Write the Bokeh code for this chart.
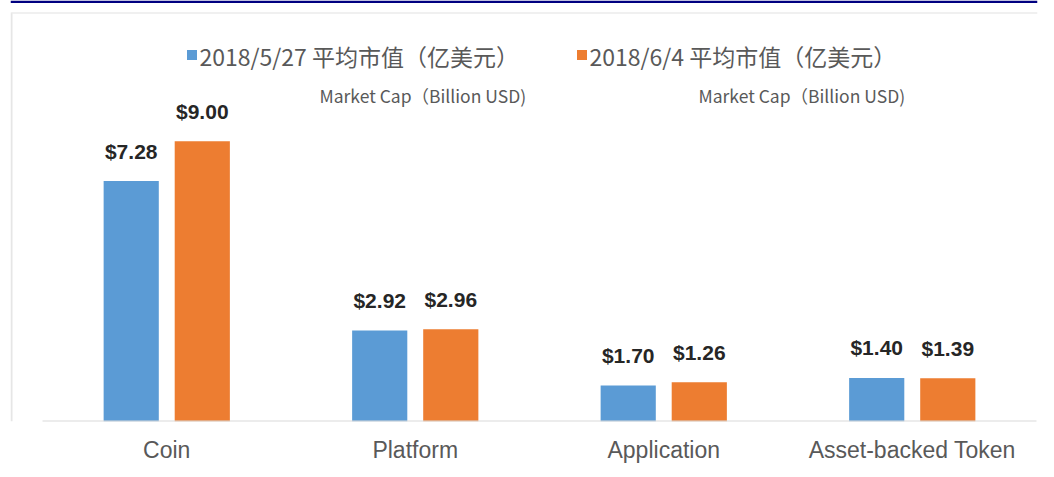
from bokeh.plotting import figure
from bokeh.models import Range1d, FixedTicker, ColumnDataSource, BoxAnnotation
from bokeh.transform import dodge
from bokeh.core.properties import value
from bokeh.embed import file_html
from bokeh.resources import INLINE

# ---------------- data ----------------
categories = ["Coin", "Platform", "Application", "Asset-backed Token"]
series_names = ["2018/5/27 平均市值（亿美元）", "2018/6/4 平均市值（亿美元）"]
series_subtitle = "Market Cap（Billion USD)"
# bar heights as drawn in the picture (Billion USD scale)
heights_0527 = [7.72, 2.92, 1.16, 1.40]
heights_0604 = [9.00, 2.96, 1.26, 1.39]
# value labels as printed
labels_0527 = ["$7.28", "$2.92", "$1.70", "$1.40"]
labels_0604 = ["$9.00", "$2.96", "$1.26", "$1.39"]

# ---------------- styling / geometry ----------------
BLUE = "#5B9BD5"
ORANGE = "#ED7D31"
GRAY_TXT = "#595959"
PXU_X = 248.5          # pixels per category
PXU_Y = 31.14          # pixels per unit of value
FRAME_L, FRAME_R = 10, 1037
FRAME_T, FRAME_B = 0, 421

x_start = -(42 - FRAME_L) / PXU_X
x_end = len(categories) + (FRAME_R - 1036) / PXU_X
y_end = (FRAME_B - FRAME_T) / PXU_Y


def dx(px):
    return x_start + (px - FRAME_L) / PXU_X


def dy(py):
    return (FRAME_B - py) / PXU_Y


xs = [i + 0.5 for i in range(len(categories))]
src = ColumnDataSource(dict(x=xs, h1=heights_0527, h2=heights_0604,
                            l1=labels_0527, l2=labels_0604))

p = figure(frame_width=FRAME_R - FRAME_L, frame_height=FRAME_B - FRAME_T,
           output_backend="svg", toolbar_location=None,
           x_range=Range1d(x_start, x_end), y_range=Range1d(0, y_end),
           min_border_left=FRAME_L, min_border_right=1,
           min_border_top=FRAME_T, min_border_bottom=40)
p.outline_line_color = None
p.xgrid.visible = False
p.ygrid.visible = False
p.yaxis.visible = False
p.background_fill_color = "white"
p.border_fill_color = "white"

OFF = 0.143
BW = 0.222
p.vbar(x=dodge("x", -OFF), top="h1", width=BW, source=src,
       fill_color=BLUE, line_color=None)
p.vbar(x=dodge("x", OFF), top="h2", width=BW, source=src,
       fill_color=ORANGE, line_color=None)

lbl_kw = dict(text_font=value("Liberation Sans"), text_font_style="bold",
              text_font_size="21px", text_color="#262626", text_align="center",
              text_baseline="alphabetic", y_offset=-30)
p.text(x=dodge("x", -OFF), y="h1", text="l1", source=src, **lbl_kw)
p.text(x=dodge("x", OFF), y="h2", text="l2", source=src, **lbl_kw)

# baseline
p.segment(x0=[0], y0=[0], x1=[len(categories)], y1=[0],
          line_color="#d9d9d9", line_width=2)

# frame decoration: navy top band, light gray box lines
p.add_layout(BoxAnnotation(bottom=dy(2.5), fill_color="#000080", fill_alpha=1,
                           line_color=None))
p.segment(x0=[dx(11)], y0=[dy(12)], x1=[dx(11)], y1=[0],
          line_color="#e6e6e6", line_width=2)
p.segment(x0=[dx(11)], y0=[dy(12.5)], x1=[x_end], y1=[dy(12.5)],
          line_color="#ebebeb", line_width=1.5)

# legend
leg_x = [dx(191.5), dx(581.5)]
txt_x = [dx(199), dx(589)]
sub_x = [dx(319), dx(698)]
colors = [BLUE, ORANGE]
p.scatter(x=leg_x, y=[dy(54.5)] * 2, marker="square", size=10,
          fill_color=colors, line_color=None)
p.text(x=txt_x, y=[dy(55.5)] * 2, text=series_names,
       text_font=value("Noto Sans CJK SC"), text_font_size="23px",
       text_color=GRAY_TXT, text_baseline="middle", text_align="left")
p.text(x=sub_x, y=[dy(95)] * 2, text=[series_subtitle] * 2,
       text_font=value("Noto Sans CJK SC"), text_font_size="17.5px",
       text_color=GRAY_TXT, text_baseline="middle", text_align="left")

# category axis
ax = p.xaxis[0]
ax.ticker = FixedTicker(ticks=xs)
ax.major_label_overrides = {x: c for x, c in zip(xs, categories)}
ax.axis_line_color = None
ax.major_tick_line_color = None
ax.minor_tick_line_color = None
ax.major_label_standoff = 9
ax.major_label_text_font = "Liberation Sans"
ax.major_label_text_font_size = "23px"
ax.major_label_text_color = GRAY_TXT

open("out.html", "w").write(file_html(p, INLINE))
